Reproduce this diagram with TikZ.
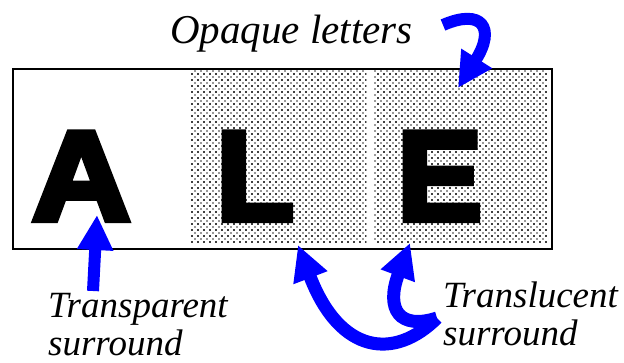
\documentclass[tikz,border=0pt]{standalone}
\usepackage{fontspec}
\setmainfont{Liberation Serif}
\newfontfamily\heavyfont[BoldFeatures={FakeBold=5}]{Liberation Sans}
\usetikzlibrary{arrows.meta,patterns}
\definecolor{arrowblue}{RGB}{0,0,255}
\pgfdeclarepatternformonly{halftone}{\pgfqpoint{-1pt}{-1pt}}{\pgfqpoint{7pt}{7pt}}{\pgfqpoint{6pt}{6pt}}{%
  \pgfpathcircle{\pgfqpoint{0pt}{0pt}}{0.85pt}%
  \pgfpathcircle{\pgfqpoint{3pt}{3pt}}{0.85pt}%
  \pgfpathcircle{\pgfqpoint{6pt}{0pt}}{0.85pt}%
  \pgfpathcircle{\pgfqpoint{0pt}{6pt}}{0.85pt}%
  \pgfpathcircle{\pgfqpoint{6pt}{6pt}}{0.85pt}%
  \pgfusepath{fill}}
\tikzset{
  bigletter/.style={anchor=base west, inner sep=0pt, font=\heavyfont\bfseries\fontsize{127pt}{127pt}\selectfont},
  lbl/.style={anchor=base west, inner sep=0pt, align=left, font=\itshape\fontsize{37pt}{38pt}\selectfont},
  shade/.style={pattern=halftone, pattern color=black!80},
  fatarrow/.style={draw=arrowblue, line width=12pt, -{Triangle[length=35pt,width=34pt]}, arrowblue},
}
\begin{document}
\begin{tikzpicture}[x=1pt,y=-1pt]
\useasboundingbox (0,0) rectangle (624,362);
% frame and shaded surrounds
\node (frame) [draw, line width=1.5pt, fill=white, minimum width=539pt, minimum height=180pt, inner sep=0pt, anchor=north west] at (12,68) {};
\fill[shade] (191,70) rectangle (366,243);
\fill[shade] (373,70) rectangle (548,243);
% letters
\node (A) [bigletter] at (32,220) {\scalebox{1.07}[1]{A}};
\node (L) [bigletter] at (216,220) {L};
\node (E) [bigletter] at (397,220) {E};
% labels
\node (opaque) [lbl, font=\itshape\fontsize{41pt}{41pt}\selectfont] at (170,43) {Opaque letters};
\node (transp) [lbl] at (48,355) {Transparent\\surround};
\node (transl) [lbl] at (443,345) {Translucent\\surround};
% arrow anchor points
\coordinate (opS) at (443,25);
\coordinate (opT) at (458,88);
\coordinate (trS) at (93,291);
\coordinate (trT) at (97,215);
\coordinate (tlS) at (437,318);
\coordinate (tlL) at (298,245);
\coordinate (tlR) at (410,243);
% arrows
\draw[fatarrow] (opS) .. controls (482,8) and (496,28) .. (opT);
\draw[fatarrow] (trS) -- (trT);
\draw[fatarrow, line width=13pt] (tlS) .. controls (395,360) and (340,355) .. (tlL);
\draw[fatarrow, line width=13pt] (tlS) .. controls (400,330) and (385,310) .. (tlR);
\end{tikzpicture}
\end{document}
